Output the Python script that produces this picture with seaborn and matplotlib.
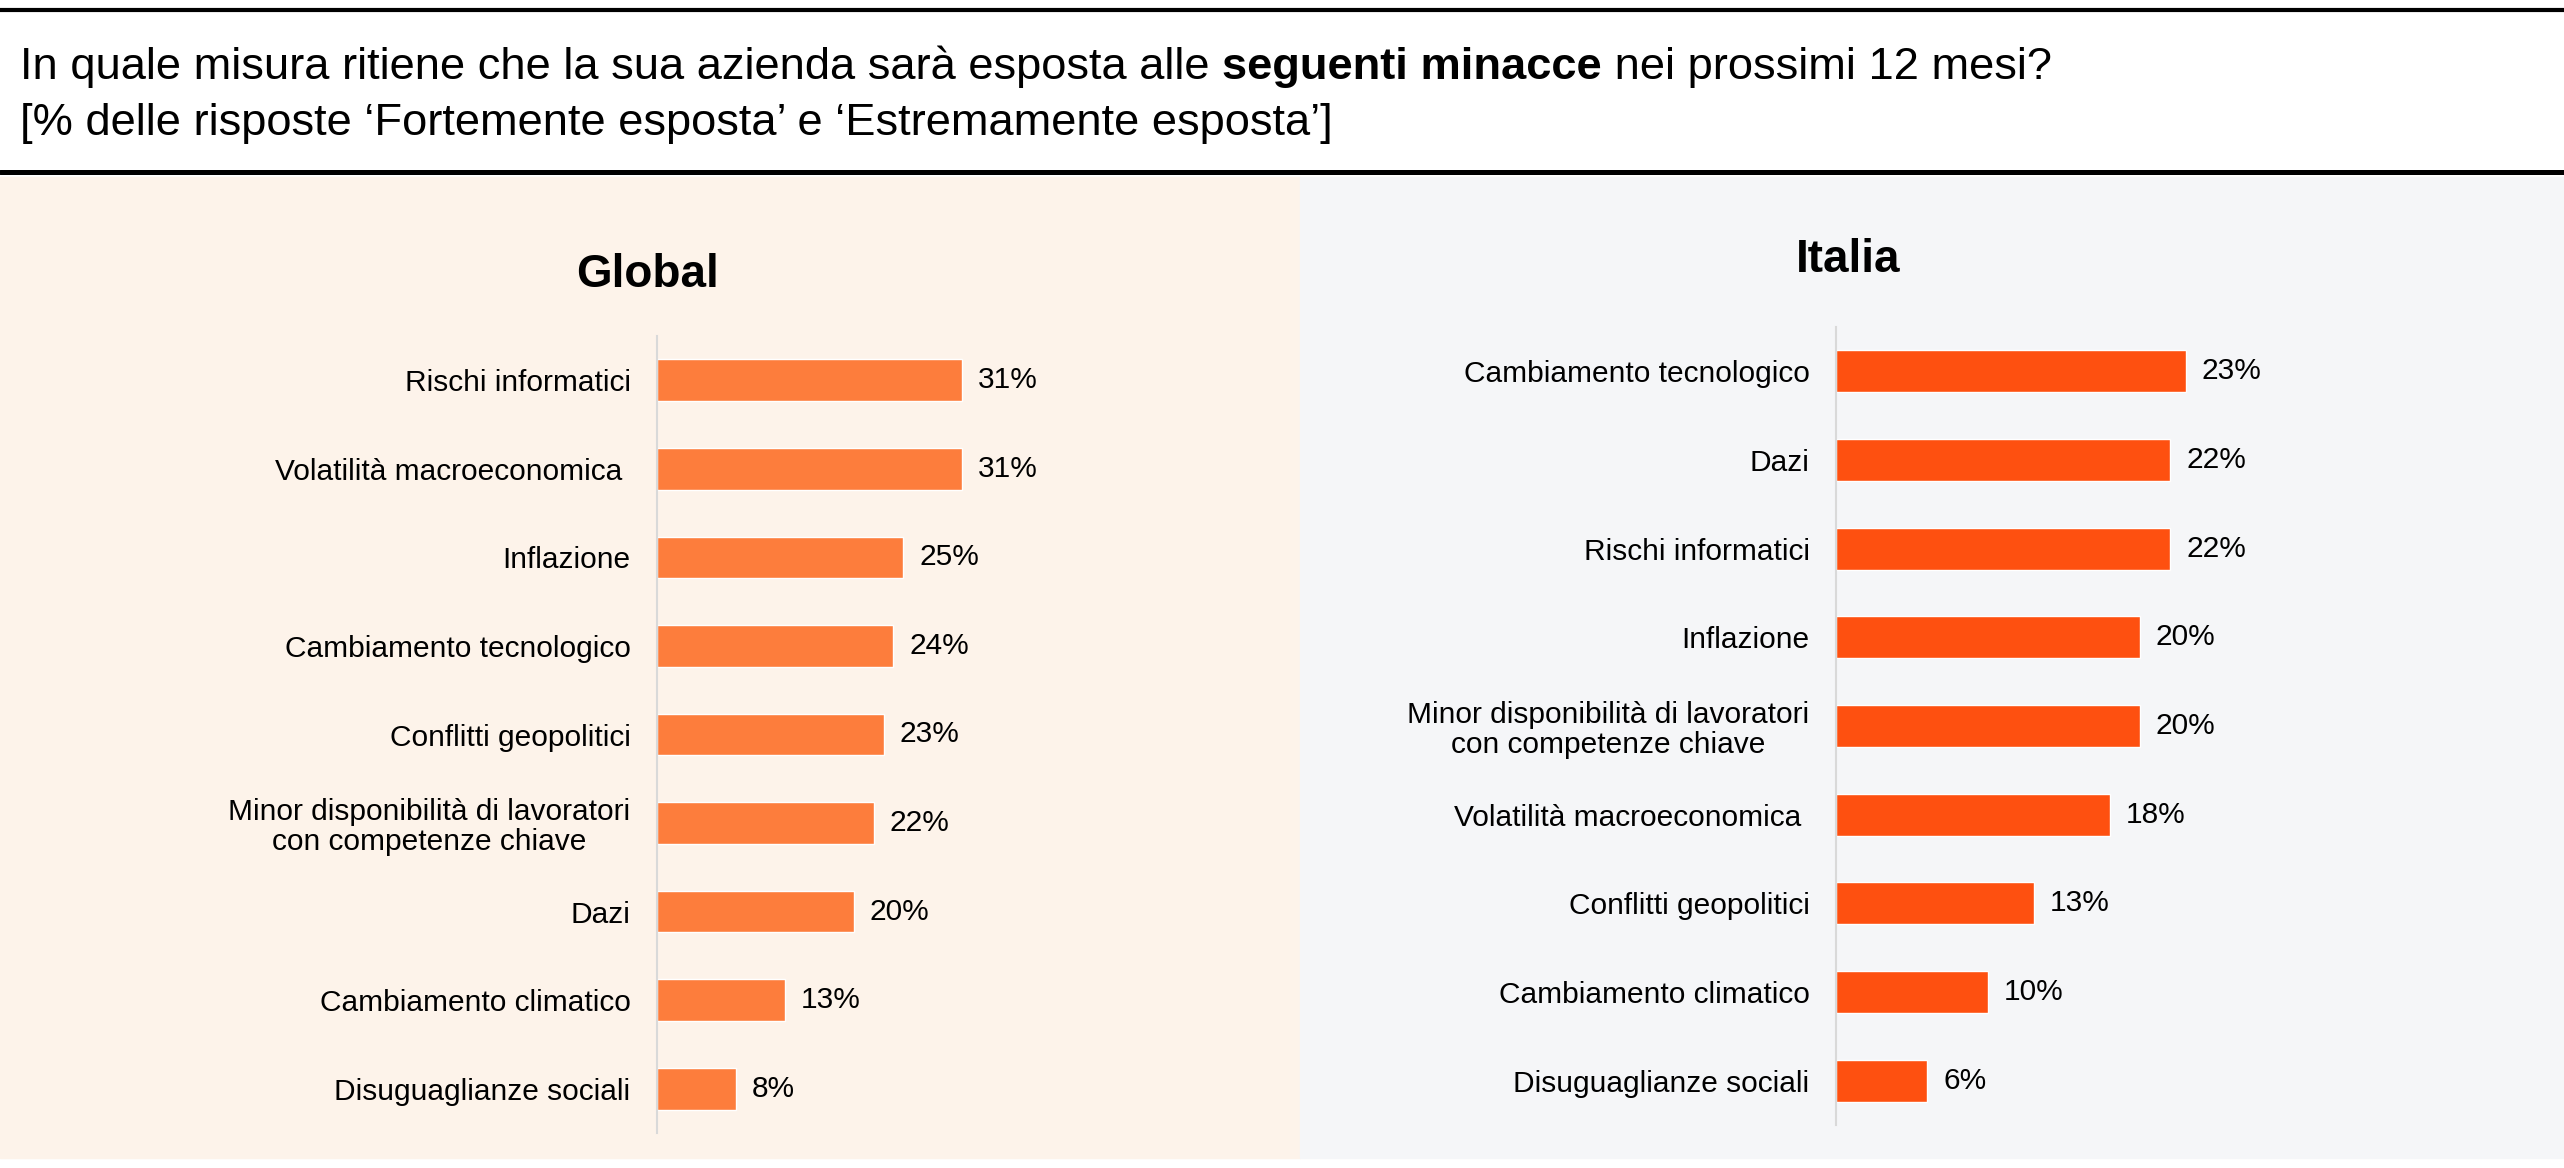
import matplotlib
matplotlib.use("Agg")
import matplotlib.pyplot as plt
import seaborn as sns
import pandas as pd
from matplotlib.patches import Rectangle
from matplotlib.lines import Line2D

# dati
global_labels = ["Rischi informatici", "Volatilità macroeconomica ", "Inflazione",
                 "Cambiamento tecnologico", "Conflitti geopolitici",
                 "Minor disponibilità di lavoratori\ncon competenze chiave",
                 "Dazi", "Cambiamento climatico", "Disuguaglianze sociali"]
global_values = [31, 31, 25, 24, 23, 22, 20, 13, 8]

italia_labels = ["Cambiamento tecnologico", "Dazi", "Rischi informatici", "Inflazione",
                 "Minor disponibilità di lavoratori\ncon competenze chiave",
                 "Volatilità macroeconomica ", "Conflitti geopolitici",
                 "Cambiamento climatico", "Disuguaglianze sociali"]
italia_values = [23, 22, 22, 20, 20, 18, 13, 10, 6]

W, H = 2564, 1168
sns.set_theme(style="white")
plt.rcParams['font.family'] = ['Liberation Sans', 'DejaVu Sans']
plt.rcParams['text.color'] = 'black'

fig = plt.figure(figsize=(W / 100, H / 100), dpi=100, facecolor="white")


def px_rect(x0, y0, x1, y1):
    # pixel box (top-left origin) -> figure fraction [left, bottom, w, h]
    return [x0 / W, 1 - y1 / H, (x1 - x0) / W, (y1 - y0) / H]


# sfondi dei pannelli (sotto gli assi)
fig.patches.append(Rectangle((0, 1 - 1158 / H), 1300 / W, (1158 - 177) / H,
                             transform=fig.transFigure, color="#FDF3EA", zorder=-2))
fig.patches.append(Rectangle((1300 / W, 1 - 1158 / H), (W - 1300) / W, (1158 - 177) / H,
                             transform=fig.transFigure, color="#F5F6F8", zorder=-2))
# linee nere
fig.lines.append(Line2D([0, 1], [1 - 10 / H, 1 - 10 / H], transform=fig.transFigure,
                        color="black", lw=3))
fig.lines.append(Line2D([0, 1], [1 - 172 / H, 1 - 172 / H], transform=fig.transFigure,
                        color="black", lw=3.6))

# titolo con parte in grassetto
fig.canvas.draw()
r = fig.canvas.get_renderer()
tfs = 32.6
y1 = 1 - 79 / H
t = fig.text(20 / W, y1, "In quale misura ritiene che la sua azienda sarà esposta alle ",
             fontsize=tfs, va="baseline", ha="left")
bb = t.get_window_extent(r)
t2 = fig.text(bb.x1 / W, y1, "seguenti minacce", fontsize=tfs, fontweight="bold",
              va="baseline", ha="left")
bb2 = t2.get_window_extent(r)
fig.text(bb2.x1 / W, y1, " nei prossimi 12 mesi?", fontsize=tfs, va="baseline", ha="left")
fig.text(20 / W, 1 - 135 / H, "[% delle risposte ‘Fortemente esposta’ e ‘Estremamente esposta’]",
         fontsize=tfs, va="baseline", ha="left")

panels = [
    (global_labels, global_values, "#FD7D3C", px_rect(657, 336, 657 + 394, 1133), 40,
     "Global", 647, 287),
    (italia_labels, italia_values, "#FE5010", px_rect(1836, 327, 1836 + 456, 1125), 30,
     "Italia", 1848, 272),
]

for labels, values, color, rect, xmax, title, tx, ty in panels:
    ax = fig.add_axes(rect)
    ax.patch.set_alpha(0)
    df = pd.DataFrame({"minaccia": labels, "valore": values})
    sns.barplot(data=df, y="minaccia", x="valore", orient="h", color=color,
                saturation=1, width=0.47, ax=ax)
    ax.set_xlim(0, xmax)
    ax.set_ylim(8.5, -0.5)
    ax.set_xlabel("")
    ax.set_ylabel("")
    ax.set_xticks([])
    for s in ["top", "right", "bottom"]:
        ax.spines[s].set_visible(False)
    ax.spines["left"].set_color("#D9D9D9")
    ax.spines["left"].set_linewidth(1.5)
    ax.tick_params(axis="y", length=0, pad=19, labelsize=21.5, labelcolor="black")
    for lab in ax.get_yticklabels():
        lab.set_multialignment("center")
        lab.set_linespacing(1.1)
    ax.bar_label(ax.containers[0], labels=[f"{v}%" for v in values],
                 padding=11.5, fontsize=21.5, color="black")
    fig.text(tx / W, 1 - ty / H, title, fontsize=33, fontweight="bold",
             ha="center", va="baseline")

fig.savefig("out.png", dpi=100, facecolor="white")
